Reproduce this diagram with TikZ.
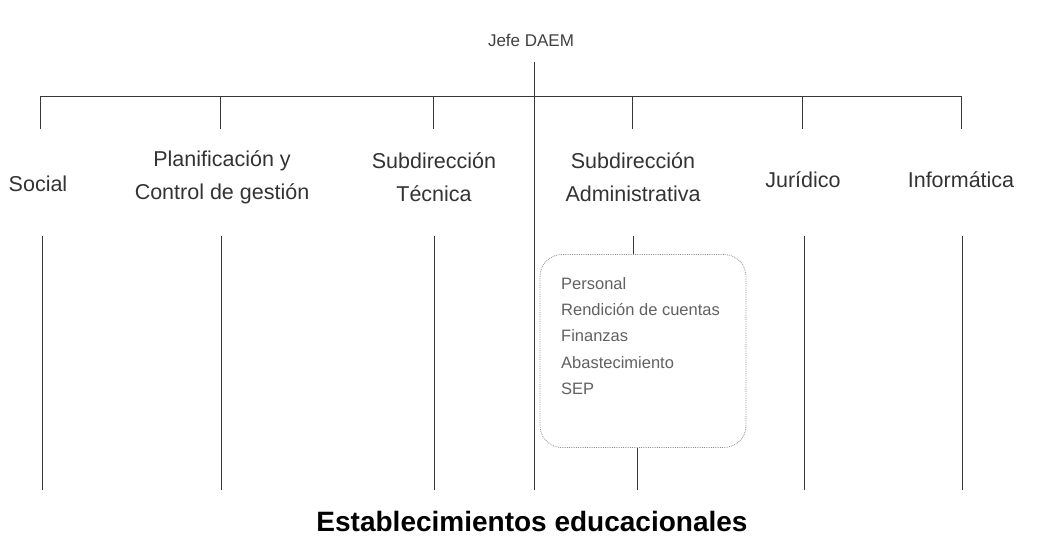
\documentclass[tikz,border=0pt]{standalone}
\usepackage{fontspec}
\setmainfont{Liberation Sans}
\begin{document}
\begin{tikzpicture}[x=1pt,y=-1pt,
  ln/.style={draw=black!78,line width=0.9pt},
  lbl/.style={text=black!80,align=center,inner sep=0pt,font=\fontsize{21.5}{33}\selectfont},
  sub/.style={text=black!62,align=left,inner sep=0pt,font=\fontsize{16.5}{26.3}\selectfont},
  subbox/.style={draw=black!45,densely dotted,line width=0.8pt,rounded corners=22pt}]
\useasboundingbox (0,0) rectangle (1046,558);
% top
\node[text=black!75,font=\fontsize{17}{20}\selectfont,inner sep=1pt] (jefe) at (531,40) {Jefe DAEM};
% bus
\coordinate (bl) at (40,96);
\coordinate (br) at (962,96);
\draw[ln] (bl) -- (br);
% labels
\node[lbl] (social) at (38,184) {Social};
\node[lbl] (plan) at (222,177) {Planificación y\\Control de gestión};
\node[lbl] (tec) at (434,177) {Subdirección\\Técnica};
\node[lbl] (adm) at (633,177) {Subdirección\\Administrativa};
\node[lbl] (jur) at (803,180) {Jurídico};
\node[lbl] (inf) at (961,180) {Informática};
% drops
\foreach \n/\x in {d1/40,d2/220,d3/433,d5/632,d6/802,d7/961}{
  \coordinate (\n t) at (\x,96);
  \coordinate (\n b) at (\x,129);
  \draw[ln] (\n t) -- (\n b);
}
% central line
\coordinate (ctop) at (534,62);
\coordinate (cbot) at (534,490);
\draw[ln] (ctop) -- (cbot);
% lower lines
\foreach \n/\x in {e1/42,e2/221,e3/434,e6/804,e7/962}{
  \coordinate (\n t) at (\x,236);
  \coordinate (\n b) at (\x,490);
  \draw[ln] (\n t) -- (\n b);
}
% admin sub box
\node[subbox,minimum width=206pt,minimum height=193pt] (box) at (643,351) {};
\node[sub,anchor=north west] (items) at (561,277) {Personal\\Rendición de cuentas\\Finanzas\\Abastecimiento\\SEP};
\coordinate (e5t) at (633,236);
\draw[ln] (e5t) -- (e5t |- box.north);
\coordinate (e5b) at (637,490);
\draw[ln] (box.south -| e5b) -- (e5b);
% bottom
\node[text=black,font=\bfseries\fontsize{28}{32}\selectfont,inner sep=0pt] (est) at (532,521) {Establecimientos educacionales};
\end{tikzpicture}
\end{document}
